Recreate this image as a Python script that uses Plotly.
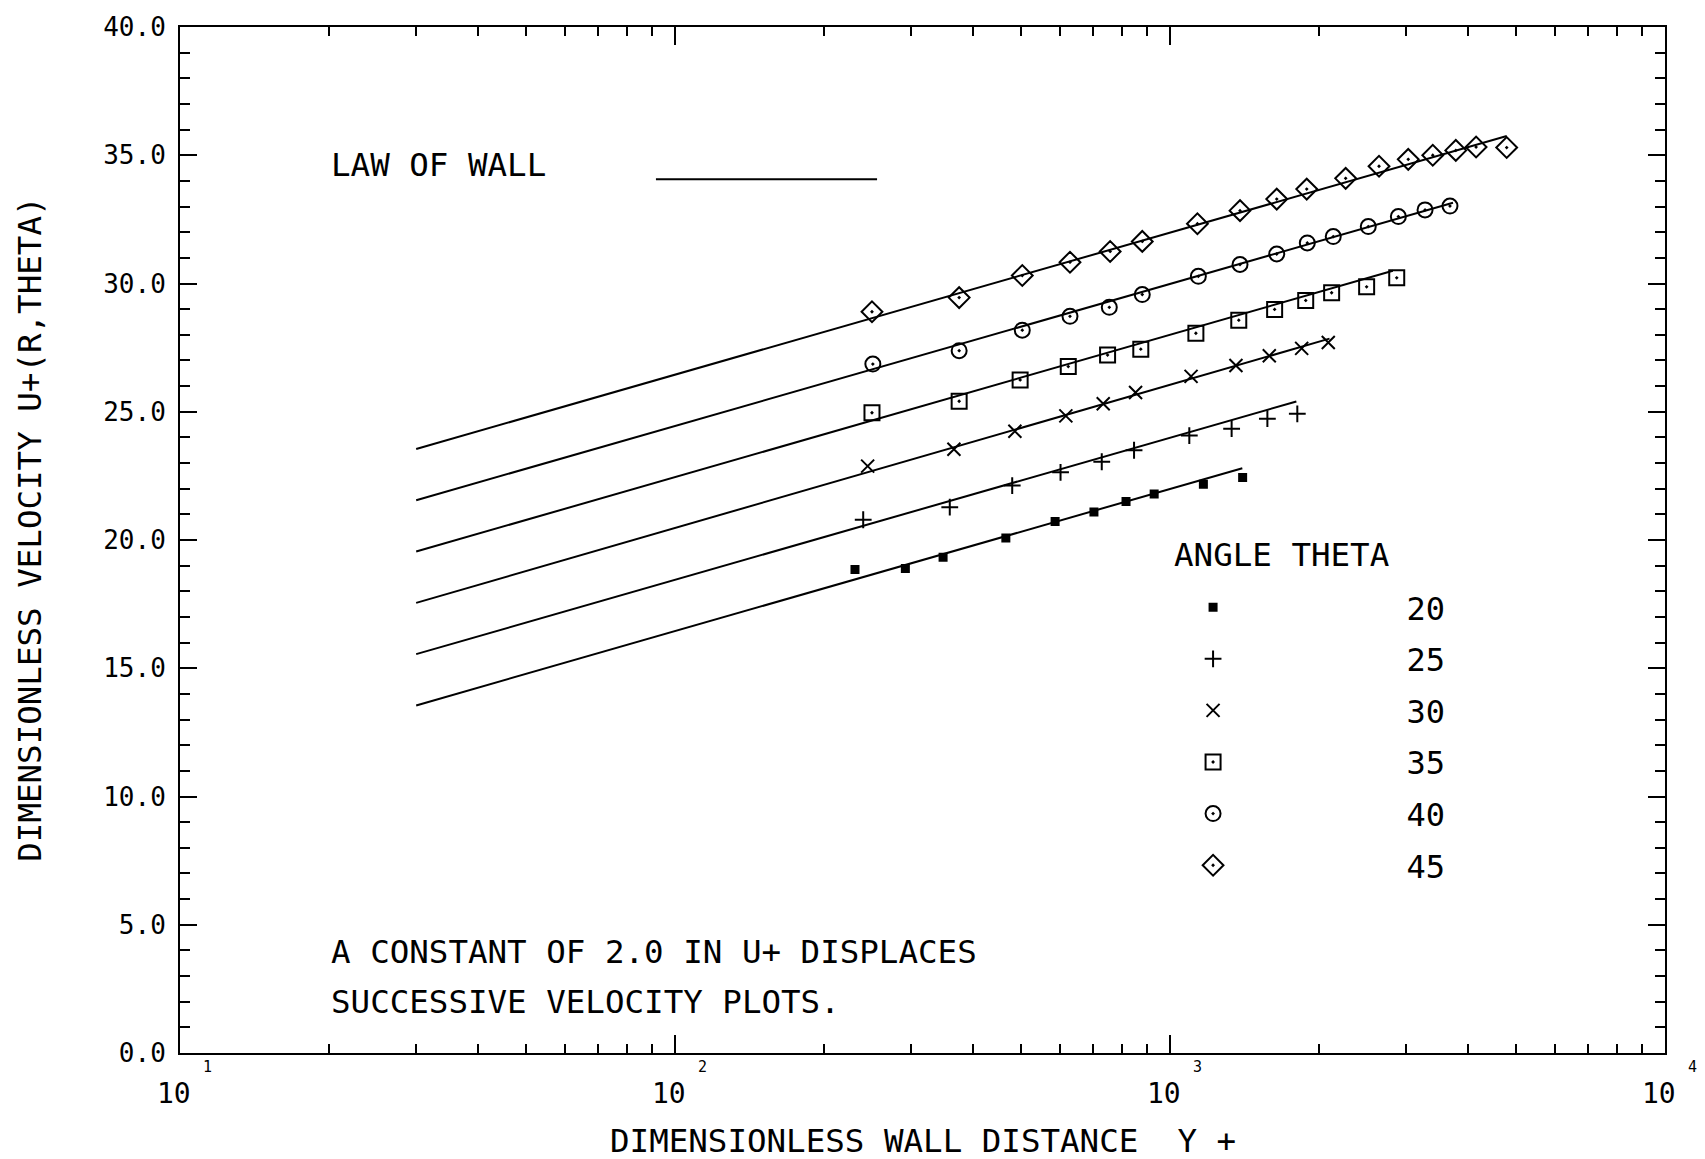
import math
import plotly.graph_objects as go

FONT = "DejaVu Sans Mono"
INK = "#000000"

# ---- data -------------------------------------------------------------
angles = ["20", "25", "30", "35", "40", "45"]

# Law-of-wall lines (each displaced by 2.0 in U+), end points on the log axis
wall_yplus_start = [30, 30, 30, 30, 30, 30]
wall_yplus_end = [1400, 1800, 2100, 2820, 3730, 4790]
wall_u_start = [13.55, 15.55, 17.55, 19.55, 21.55, 23.55]
wall_u_end = [22.8, 25.4, 27.85, 30.5, 33.15, 35.75]

# Measured velocity profiles, Y+ and U+ for each angle theta
yplus_20 = [231, 292, 348, 466, 586, 702, 815, 929, 1168, 1402]
u_20 = [18.85, 18.89, 19.33, 20.08, 20.72, 21.09, 21.50, 21.79, 22.17, 22.44]

yplus_25 = [240, 359, 480, 601, 728, 846, 1094, 1332, 1573, 1808]
u_25 = [20.79, 21.28, 22.12, 22.64, 23.05, 23.50, 24.07, 24.34, 24.73, 24.92]

yplus_30 = [245, 366, 486, 616, 733, 852, 1103, 1359, 1587, 1845, 2088]
u_30 = [22.88, 23.54, 24.24, 24.84, 25.31, 25.75, 26.38, 26.80, 27.18, 27.47, 27.70]

yplus_35 = [250, 375, 498, 623, 748, 873, 1128, 1377, 1627, 1880, 2121, 2496, 2871]
u_35 = [24.96, 25.41, 26.24, 26.76, 27.21, 27.44, 28.06, 28.57, 28.99, 29.34,
        29.64, 29.87, 30.22]

yplus_40 = [251, 375, 503, 628, 754, 879, 1141, 1385, 1643, 1894, 2137, 2515,
            2893, 3275, 3678]
u_40 = [26.86, 27.38, 28.18, 28.72, 29.07, 29.57, 30.28, 30.74, 31.15, 31.58,
        31.83, 32.22, 32.61, 32.87, 33.02]

yplus_45 = [250, 375, 503, 628, 757, 879, 1136, 1385, 1643, 1889, 2264, 2644,
            3029, 3395, 3779, 4153, 4788]
u_45 = [28.90, 29.45, 30.31, 30.83, 31.25, 31.64, 32.33, 32.84, 33.29, 33.68,
        34.10, 34.57, 34.84, 35.00, 35.19, 35.32, 35.30]

profiles_yplus = [yplus_20, yplus_25, yplus_30, yplus_35, yplus_40, yplus_45]
profiles_u = [u_20, u_25, u_30, u_35, u_40, u_45]

x_major_ticks = [10, 100, 1000, 10000]
x_tick_exponents = ["1", "2", "3", "4"]
x_minor_ticks = [m * d for d in (10, 100, 1000) for m in range(2, 10)]

# ---- styling ----------------------------------------------------------
symbols = ["square", "cross-thin", "x-thin", "square-open-dot",
           "circle-open-dot", "diamond-open-dot"]
sizes = [7, 12, 13, 15, 15, 16]

fig = go.Figure()

for i in range(len(angles)):
    fig.add_trace(go.Scatter(
        x=[wall_yplus_start[i], wall_yplus_end[i]],
        y=[wall_u_start[i], wall_u_end[i]],
        mode="lines",
        line=dict(color=INK, width=2),
        showlegend=False,
        hoverinfo="skip",
    ))

for i, ang in enumerate(angles):
    fig.add_trace(go.Scatter(
        x=profiles_yplus[i],
        y=profiles_u[i],
        mode="markers",
        name=" " * 9 + ang,
        legendgroup="theta" + ang,
        marker=dict(symbol=symbols[i], size=sizes[i], color=INK,
                    line=dict(color=INK, width=2)),
    ))

# ---- text ---------------------------------------------------------------
annotations = []
for v, e in zip(x_major_ticks, x_tick_exponents):
    annotations.append(dict(
        x=math.log10(v), xref="x", y=0, yref="paper", yshift=-40, xshift=-6,
        xanchor="center", yanchor="middle",
        text="10", showarrow=False, font=dict(family=FONT, size=28, color=INK)))
    annotations.append(dict(
        x=math.log10(v), xref="x", y=0, yref="paper", yshift=-14, xshift=27,
        xanchor="center", yanchor="middle",
        text=e, showarrow=False, font=dict(family=FONT, size=15, color=INK)))

txt = dict(family=FONT, size=32.5, color=INK)
annotations += [
    dict(text="DIMENSIONLESS VELOCITY U+(R,THETA)", textangle=-90,
         x=-0.101, y=0.51, xref="paper", yref="paper",
         xanchor="center", yanchor="middle", showarrow=False, font=txt),
    dict(text="DIMENSIONLESS WALL DISTANCE  Y +",
         x=0.5, y=-0.086, xref="paper", yref="paper",
         xanchor="center", yanchor="middle", showarrow=False, font=txt),
    dict(text="LAW OF WALL", x=0.1003, y=0.8657, xref="paper", yref="paper",
         xanchor="left", yanchor="middle", showarrow=False, font=txt),
    dict(text="A CONSTANT OF 2.0 IN U+ DISPLACES", x=0.1003, y=0.0988,
         xref="paper", yref="paper", xanchor="left", yanchor="middle",
         showarrow=False, font=txt),
    dict(text="SUCCESSIVE VELOCITY PLOTS.", x=0.1003, y=0.0499,
         xref="paper", yref="paper", xanchor="left", yanchor="middle",
         showarrow=False, font=txt),
    dict(text="ANGLE THETA", x=0.668, y=0.4855, xref="paper", yref="paper",
         xanchor="left", yanchor="middle", showarrow=False, font=txt),
]

axis_common = dict(
    showline=True, linecolor=INK, linewidth=2, mirror="ticks",
    ticks="inside", tickcolor=INK, tickwidth=2,
    showgrid=False, zeroline=False,
)

fig.update_layout(
    width=1705, height=1159,
    margin=dict(l=180, r=40, t=21, b=106),
    paper_bgcolor="white", plot_bgcolor="white",
    font=dict(family=FONT, color=INK),
    xaxis=dict(
        type="log", range=[1, 4], tickvals=x_major_ticks, ticklen=18,
        showticklabels=False,
        minor=dict(tickvals=x_minor_ticks, ticks="inside", ticklen=9,
                   tickwidth=2, tickcolor=INK, showgrid=False),
        **axis_common,
    ),
    yaxis=dict(
        range=[0, 40], tick0=0, dtick=5, ticklen=17, tickformat=".1f",
        tickfont=dict(family=FONT, size=26, color=INK),
        ticklabelstandoff=7,
        minor=dict(dtick=1, ticks="inside", ticklen=10, tickwidth=2,
                   tickcolor=INK, showgrid=False),
        **axis_common,
    ),
    legend=dict(
        x=0.6822, y=0.4611, xanchor="left", yanchor="top",
        font=dict(family=FONT, size=32, color=INK),
        bgcolor="rgba(0,0,0,0)", borderwidth=0,
        traceorder="grouped", tracegroupgap=7, itemwidth=30,
    ),
    annotations=annotations,
    shapes=[dict(type="line", xref="paper", yref="paper",
                 x0=0.3205, x1=0.4694, y0=0.8517, y1=0.8517,
                 line=dict(color=INK, width=2))],
)

fig.write_html("out.html")
